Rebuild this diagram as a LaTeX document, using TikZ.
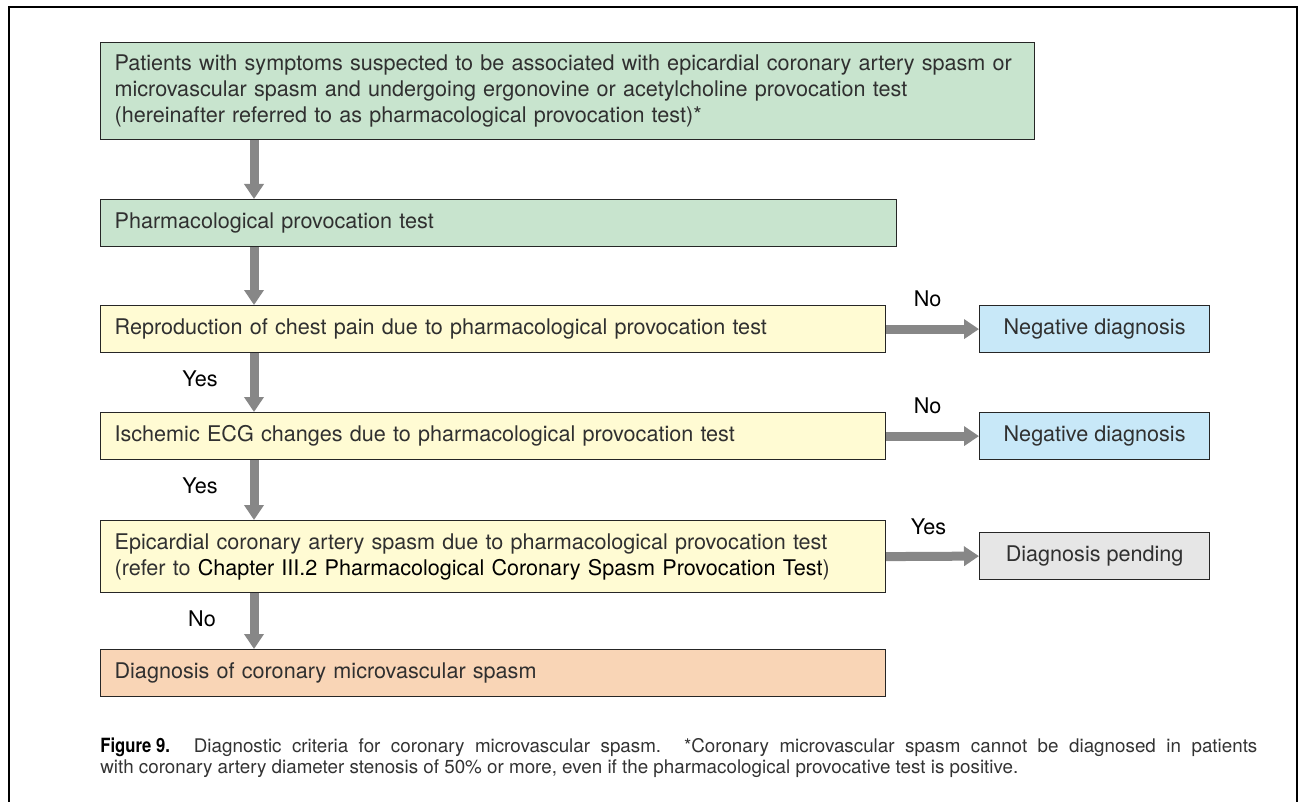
\documentclass[tikz,border=0pt]{standalone}
\usepackage{fontspec}
\setmainfont{TeX Gyre Heros}
\usepackage{graphicx}
\usetikzlibrary{arrows.meta}

\definecolor{boxgreen}{HTML}{C8E4CE}
\definecolor{boxyellow}{HTML}{FFFBD3}
\definecolor{boxblue}{HTML}{C8E8F8}
\definecolor{boxgray}{HTML}{E6E6E6}
\definecolor{boxorange}{HTML}{F9D5B6}
\definecolor{flowgray}{HTML}{878787}
\definecolor{txt}{HTML}{303030}

\begin{document}
\begin{tikzpicture}[x=0.5pt,y=-0.5pt,
  every node/.style={inner sep=0pt},
  boxbase/.style={draw=black!85, line width=0.6pt, text=txt,
    font=\fontsize{10.8pt}{13pt}\selectfont, anchor=north west,
    inner xsep=7pt, inner ysep=0pt},
  stagebox/.style={boxbase, align=left, text width=#1},
  resultbox/.style={boxbase, align=center, minimum width=115pt, minimum height=23.5pt},
  flow/.style={draw=flowgray, line width=4.5pt, -{Triangle[width=9.5pt,length=7.5pt]}},
  lab/.style={font=\fontsize{10.8pt}{13pt}\selectfont, text=black},
]
\useasboundingbox (0,0) rectangle (1300,802);

% outer frame (open at the bottom)
\draw[line width=1.4pt] (9,802) -- (9,7) -- (1297,7) -- (1297,802);

% main column
\node[stagebox=453pt, fill=boxgreen, minimum height=48.5pt] (b1) at (100,42)
  {\mbox{Patients with symptoms suspected to be associated with epicardial coronary artery spasm or}\\
   microvascular spasm and undergoing ergonovine or acetylcholine provocation test\\
   (hereinafter referred to as pharmacological provocation test)*};
\node[stagebox=384pt, fill=boxgreen, minimum height=23.5pt] (b2) at (100,199)
  {Pharmacological provocation test};
\node[stagebox=378.5pt, fill=boxyellow, minimum height=23.5pt] (b3) at (100,305)
  {Reproduction of chest pain due to pharmacological provocation test};
\node[stagebox=378.5pt, fill=boxyellow, minimum height=23.5pt] (b4) at (100,412)
  {Ischemic ECG changes due to pharmacological provocation test};
\node[stagebox=378.5pt, fill=boxyellow, minimum height=36pt] (b5) at (100,520)
  {Epicardial coronary artery spasm due to pharmacological provocation test\\
   (refer to {\color{black}Chapter III.2 Pharmacological Coronary Spasm Provocation Test})};
\node[stagebox=378.5pt, fill=boxorange, minimum height=23.5pt] (b6) at (100,649)
  {Diagnosis of coronary microvascular spasm};

% outcome boxes
\node[resultbox, fill=boxblue] (n1) at (979,305) {Negative diagnosis};
\node[resultbox, fill=boxblue] (n2) at (979,412) {Negative diagnosis};
\node[resultbox, fill=boxgray] (pend) at (979,532) {Diagnosis pending};

% vertical flow
\draw[flow] ([xshift=77pt]b1.south west) -- ([xshift=77pt]b2.north west);
\draw[flow] ([xshift=77pt]b2.south west) -- ([xshift=77pt]b3.north west);
\draw[flow] ([xshift=77pt]b3.south west) -- ([xshift=77pt]b4.north west)
  node[lab, midway, xshift=-27pt, yshift=2pt] {Yes};
\draw[flow] ([xshift=77pt]b4.south west) -- ([xshift=77pt]b5.north west)
  node[lab, midway, xshift=-27pt, yshift=2pt] {Yes};
\draw[flow] ([xshift=77pt]b5.south west) -- ([xshift=77pt]b6.north west)
  node[lab, midway, xshift=-26pt, yshift=1pt] {No};

% side branches
\draw[flow] (b3.east) -- (n1.west) node[lab, midway, xshift=-2.5pt, yshift=15pt] {No};
\draw[flow] (b4.east) -- (n2.west) node[lab, midway, xshift=-2.5pt, yshift=15pt] {No};
\draw[flow] (b5.east) -- (pend.west) node[lab, midway, xshift=-2pt, yshift=15pt] {Yes};

% caption
\node[anchor=north west, text width=578.5pt, align=justify, text=black!80,
      font=\fontsize{9.4pt}{10.8pt}\selectfont] (cap) at (100,737)
  {{\color{black}\fontsize{9.8pt}{10.8pt}\selectfont\bfseries\scalebox{0.85}[1]{Figure 9.}}\hspace{12pt}Diagnostic criteria for coronary microvascular spasm. *Coronary microvascular spasm cannot be diagnosed in patients\linebreak
   with coronary artery diameter stenosis of 50\% or more, even if the pharmacological provocative test is positive.};
\end{tikzpicture}
\end{document}
